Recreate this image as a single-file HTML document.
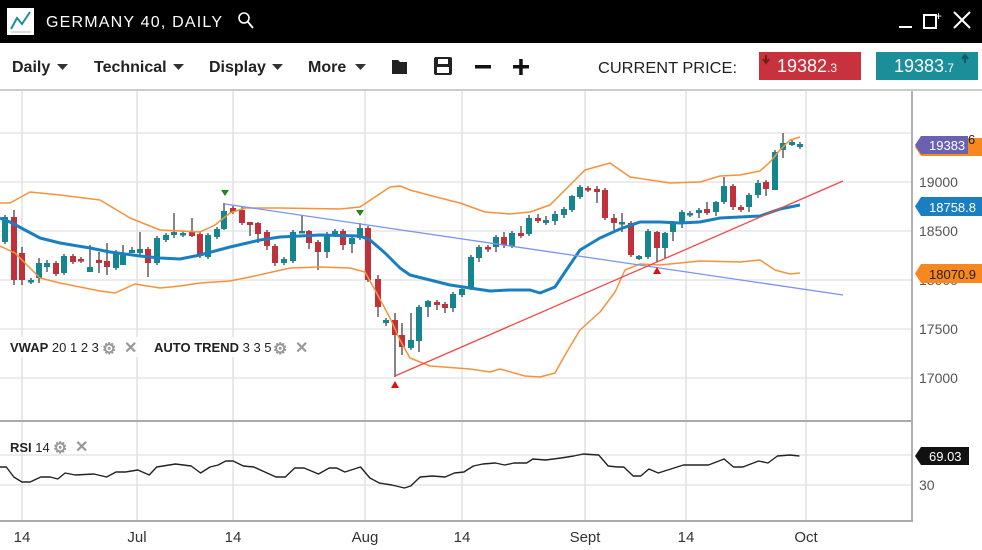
<!DOCTYPE html>
<html><head><meta charset="utf-8"><style>
body{margin:0;width:982px;height:550px;overflow:hidden;background:#fff;font-family:"Liberation Sans",sans-serif}
svg{position:absolute;left:0;top:0}
</style></head><body>
<svg id="s" width="982" height="550" xmlns="http://www.w3.org/2000/svg">
<rect x="0" y="0" width="982" height="43" fill="#000"/>
<rect x="7" y="8" width="27" height="27" fill="#fff"/>
<polyline points="11,29 17,18 22,24 30,12" fill="none" stroke="#1a8f99" stroke-width="2"/>
<line x1="11" y1="32" x2="31" y2="32" stroke="#bbb" stroke-width="1"/>
<text x="46" y="27" fill="#fff" font-size="16" letter-spacing="1.2">GERMANY 40, DAILY</text>
<circle cx="244" cy="18" r="5" fill="none" stroke="#fff" stroke-width="1.6"/>
<line x1="248" y1="22" x2="253" y2="28" stroke="#fff" stroke-width="1.8"/>
<rect x="899" y="26" width="13" height="2" fill="#fff"/>
<rect x="924" y="15" width="12" height="13" fill="none" stroke="#fff" stroke-width="2"/>
<text x="935" y="20" fill="#fff" font-size="12">+</text>
<line x1="954" y1="12" x2="970" y2="28" stroke="#fff" stroke-width="2"/>
<line x1="970" y1="12" x2="954" y2="28" stroke="#fff" stroke-width="2"/>
<g font-size="16" font-weight="bold" fill="#222">
<text x="12" y="72">Daily</text><text x="94" y="72">Technical</text><text x="209" y="72">Display</text><text x="308" y="72">More</text>
</g>
<g fill="#333"><path d="M57,64h11l-5.5,6z"/><path d="M173,64h11l-5.5,6z"/><path d="M272,64h11l-5.5,6z"/><path d="M355,64h11l-5.5,6z"/></g>
<path d="M392,60h6l2,2h7v12h-15z" fill="#222"/>
<rect x="434" y="57" width="18" height="18" rx="2" fill="#222"/><rect x="438" y="59" width="10" height="5" fill="#fff"/><rect x="437" y="67" width="12" height="6" fill="#fff"/>
<rect x="475" y="65" width="16" height="3.5" fill="#111"/>
<rect x="513" y="65" width="16" height="3.5" fill="#111"/><rect x="519.2" y="59" width="3.5" height="16" fill="#111"/>
<text x="598" y="73" font-size="16" fill="#222" textLength="139" lengthAdjust="spacingAndGlyphs">CURRENT PRICE:</text>
<rect x="759" y="52" width="102" height="28" fill="#c8323c"/>
<text x="777" y="72" fill="#fff" font-size="18">19382<tspan font-size="12">.3</tspan></text>
<path d="M766,55v7M763,59l3,4 3,-4" stroke="#7a1a1a" stroke-width="2" fill="none"/>
<rect x="876" y="52" width="102" height="28" fill="#1a8f99"/>
<text x="894" y="72" fill="#fff" font-size="18">19383<tspan font-size="12">.7</tspan></text>
<path d="M965,63v-7M962,59l3,-4 3,4" stroke="#0d5a60" stroke-width="2" fill="none"/>
<rect x="0" y="89" width="982" height="2" fill="#ccc"/>
<g id="grid" stroke="#ececec" stroke-width="2"></g>
<g id="plot"></g>
</svg>
<script>
var NS="http://www.w3.org/2000/svg",g=document.getElementById('grid'),p=document.getElementById('plot');
function el(par,t,a){var e=document.createElementNS(NS,t);for(var k in a)e.setAttribute(k,a[k]);par.appendChild(e);return e}
[133,182,231,280,329,378].forEach(function(y){el(g,'line',{x1:0,x2:912,y1:y,y2:y})});
[455,485].forEach(function(y){el(g,'line',{x1:0,x2:912,y1:y,y2:y})});
[22,137,233,365,462,585,686,806].forEach(function(x){el(g,'line',{x1:x,x2:x,y1:91,y2:521,stroke:'#e2e2e2','stroke-width':1.5})});
el(p,'line',{x1:912,x2:912,y1:91,y2:522,stroke:'#999','stroke-width':1.5});
el(p,'line',{x1:0,x2:913,y1:421,y2:421,stroke:'#aaa','stroke-width':2});
el(p,'line',{x1:0,x2:913,y1:521,y2:521,stroke:'#aaa','stroke-width':2});
var C=[[5,242,217,'t'],[14,217,280,'r',210,285],[22,253,280,'r',247,285],[31,282,280,'t'],[39,278,263,'t',258,283],[47,267,263,'t',260,272],[56,263,274,'r'],[64,273,256,'t'],[73,256,262,'r'],[81,259,261,'r'],[90,272,267,'t',245,272],[99,260,263,'r',252,273],[107,261,267,'r',243,275],[116,268,254,'t',250,270],[123,265,255,'t',245,262],[132,253,250,'t',247,253],[140,253,249,'t',232,255],[148,249,263,'r',247,277],[157,263,238,'t'],[166,240,235,'t'],[174,235,232,'t',213,238],[183,235,233,'t'],[192,232,236,'r',218,237],[200,234,256,'r'],[208,257,235,'t'],[217,237,229,'t'],[224,229,211,'t',203,230],[233,208,212,'r'],[242,210,223,'r',207,225],[250,222,225,'r',222,236],[258,223,234,'r',222,243],[267,232,246,'r',230,250],[275,246,263,'r',244,266],[284,263,259,'t'],[293,261,232,'t'],[302,233,231,'t',215,233],[309,231,243,'r',230,249],[318,242,252,'r',240,270],[327,252,234,'t',232,258],[335,235,231,'t'],[343,231,245,'r',229,250],[352,244,238,'t',235,253],[360,238,228,'t',223,240],[368,228,280,'r',226,282],[378,279,307,'r',275,317],[386,323,320,'t',318,326],[395,320,335,'r',313,377],[402,335,347,'r',323,355],[411,348,340,'t',313,350],[419,341,307,'t',305,352],[428,307,301,'t',300,317],[437,302,305,'r',300,310],[445,304,308,'r',302,313],[453,308,294,'t',292,312],[462,295,289,'t'],[471,288,257,'t',255,290],[479,258,247,'t',245,262],[488,247,249,'r',245,252],[496,247,237,'t',235,252],[504,237,245,'r',232,248],[512,246,233,'t',231,248],[521,233,236,'r',226,238],[529,234,218,'t',215,236],[538,218,221,'r',214,223],[546,223,220,'t',216,225],[555,221,214,'t',211,225],[564,215,209,'t',207,218],[572,210,196,'t',195,212],[580,197,187,'t',185,199],[588,188,190,'r'],[597,189,192,'r',186,203],[605,190,218,'r'],[614,218,223,'r',214,230],[622,224,222,'t',213,232],[631,223,255,'r'],[639,259,256,'t',255,260],[648,257,231,'t'],[657,232,248,'r',231,262],[665,248,233,'t',232,258],[673,232,223,'t',221,241],[682,223,212,'t',210,228],[690,215,213,'t'],[699,213,210,'t',208,218],[707,209,213,'r',202,215],[716,212,202,'t',201,216],[724,202,186,'t',177,204],[733,186,207,'r',184,210],[741,207,210,'r'],[749,207,195,'t',193,212],[758,195,183,'t',180,198],[766,182,189,'r',180,196],[775,190,152,'t',150,190],[783,150,143,'t',133,158],[792,145,142,'t',140,146],[800,147,144,'t']];
C.forEach(function(c){var x=c[0],o=c[1],cl=c[2],col=c[3]=='t'?'#14868f':'#c0313b';
var top=Math.min(o,cl),bot=Math.max(o,cl);var hi=c[4]||top-2,lo=c[5]||bot+2;
el(p,'line',{x1:x,x2:x,y1:hi,y2:lo,stroke:'#444','stroke-width':1.3});
el(p,'rect',{x:x-3,y:top,width:6,height:Math.max(2.5,bot-top),fill:col});});
function pl(pts,st,w){el(p,'polyline',{points:pts.map(function(a){return a.join(',')}).join(' '),fill:'none',stroke:st,'stroke-width':w,'stroke-linejoin':'round'})}
pl([[0,218],[10,222],[25,230],[40,238],[60,243],[90,248],[110,252],[140,256],[160,258],[180,259],[200,255],[230,247],[260,240],[280,237],[320,235],[360,236],[370,240],[385,253],[400,268],[410,275],[430,280],[450,285],[470,288],[490,291],[510,290],[530,290],[540,293],[555,287],[565,272],[580,250],[600,238],[620,229],[640,222],[660,222],[680,223],[700,222],[720,218],[740,217],[760,216],[780,209],[800,205]],'#1a7fc1',3);
pl([[0,203],[10,203],[30,192],[60,195],[100,200],[130,218],[160,230],[200,232],[215,225],[230,213],[245,208],[280,208],[340,209],[360,207],[375,197],[390,187],[400,186],[410,190],[440,198],[460,203],[485,212],[510,214],[530,212],[550,205],[565,190],[585,170],[610,163],[630,177],[670,183],[700,182],[720,176],[740,175],[760,171],[770,162],[780,150],[790,140],[800,137]],'#f7923a',1.5);
pl([[0,246],[15,253],[40,278],[60,283],[100,291],[115,293],[135,284],[160,288],[180,286],[200,283],[230,281],[250,277],[290,268],[320,267],[350,268],[365,272],[375,290],[390,318],[400,340],[410,358],[430,366],[470,369],[490,372],[500,369],[525,376],[540,377],[555,373],[565,355],[580,330],[600,312],[615,292],[625,270],[640,264],[660,265],[700,261],[740,262],[760,260],[775,270],[790,274],[800,273]],'#f7923a',1.5);
el(p,'line',{x1:225,y1:204,x2:843,y2:295,stroke:'#7b93f0','stroke-width':1.3});
el(p,'line',{x1:395,y1:376,x2:843,y2:181,stroke:'#f04848','stroke-width':1.3});
el(p,'path',{d:'M221,190h8l-4,6zM356,210h8l-4,6z',fill:'#1a8a1a'});
el(p,'path',{d:'M391,388h8l-4,-7zM653,274h8l-4,-7z',fill:'#e01010'});
var R=[[0,467],[10,467],[22,477],[35,482],[48,482],[65,477],[80,477],[92,479],[104,473],[120,475],[150,474],[170,477],[185,472],[200,472],[220,470],[238,475],[250,467],[280,464],[305,466],[320,473],[335,467],[348,465],[360,461],[372,461],[388,466],[405,467],[440,477],[455,477],[470,468],[485,468],[508,474],[525,468],[537,468],[550,472],[575,467],[590,478],[605,483],[625,485],[645,488],[655,486],[670,477],[690,476],[710,477],[725,473],[740,472],[755,466],[770,464],[790,463],[805,465],[820,463],[840,463],[850,459],[870,460],[895,458],[915,456],[930,454],[955,455],[970,466],[985,467],[995,467],[1010,476],[1022,476],[1035,469],[1050,473],[1060,471],[1090,465],[1130,465],[1155,459],[1170,467],[1185,467],[1210,461],[1225,463],[1240,456],[1260,455],[1275,456]].map(function(a){return [(a[0]/1.595).toFixed(1),a[1]]});
pl(R,'#222',1.4);
</script>
<svg width="982" height="550" xmlns="http://www.w3.org/2000/svg" style="pointer-events:none">
<g font-size="14" fill="#555"><text x="919" y="187">19000</text><text x="919" y="236">18500</text><text x="919" y="334">17500</text><text x="919" y="383">17000</text><text x="919" y="285">18000</text><text x="919" y="490">30</text></g>
<path d="M921,138h61v18h-61l-6,-9z" fill="#f7871f"/><text x="968" y="144" font-size="13" fill="#222">6</text>
<path d="M921,136h47v18h-47l-6,-9z" fill="#6a62b0"/><text x="929" y="150" font-size="13" fill="#fff">19383</text>
<path d="M921,197h61v19h-61l-6,-9.5z" fill="#1a7fc1"/><text x="929" y="212" font-size="13" fill="#fff">18758.8</text>
<path d="M921,264h61v19h-61l-6,-9.5z" fill="#f7871f"/><text x="929" y="279" font-size="13" fill="#222">18070.9</text>
<path d="M921,447h48v18h-48l-6,-9z" fill="#111"/><text x="929" y="461" font-size="13" fill="#fff">69.03</text>
<rect x="3" y="337" width="135" height="20" fill="#fff" opacity=".85"/>
<rect x="148" y="337" width="165" height="20" fill="#fff" opacity=".85"/>
<g font-size="13" fill="#222"><text x="10" y="352"><tspan font-weight="bold">VWAP</tspan> 20 1 2 3</text><text x="154" y="352"><tspan font-weight="bold">AUTO TREND</tspan> 3 3 5</text>
<text x="10" y="452"><tspan font-weight="bold">RSI</tspan> 14</text></g>
<g fill="#999" font-size="16" font-weight="bold"><text x="102" y="354">⚙</text><text x="124" y="353">✕</text><text x="273" y="354">⚙</text><text x="295" y="353">✕</text><text x="53" y="453">⚙</text><text x="75" y="452">✕</text></g>
<g font-size="15" fill="#333"><text x="22" y="542" text-anchor="middle">14</text><text x="137" y="542" text-anchor="middle">Jul</text><text x="233" y="542" text-anchor="middle">14</text><text x="365" y="542" text-anchor="middle">Aug</text><text x="462" y="542" text-anchor="middle">14</text><text x="585" y="542" text-anchor="middle">Sept</text><text x="686" y="542" text-anchor="middle">14</text><text x="806" y="542" text-anchor="middle">Oct</text></g>
</svg>
</body></html>
